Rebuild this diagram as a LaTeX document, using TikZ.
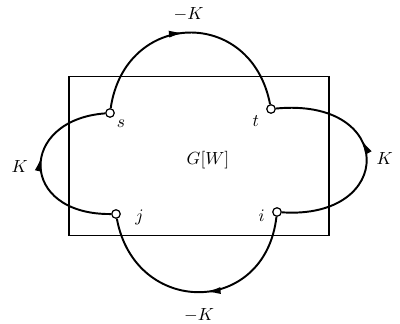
\documentclass[tikz,border=0pt]{standalone}
\usepackage{tikz}
\usetikzlibrary{arrows.meta,decorations.markings}

\begin{document}
\begin{tikzpicture}[x=0.02cm, y=-0.02cm,
  vert/.style={circle, draw, fill=white, line width=0.7pt, inner sep=0pt, minimum size=1.7mm},
  arc/.style={line width=1.1pt},
  midarrow/.style={postaction={decorate}, decoration={markings,
      mark=at position #1 with {\arrow{Latex[length=3mm,width=1.4mm]}}}},
  lab/.style={inner sep=1pt}]
\useasboundingbox (0,0) rectangle (400,324);
\node[draw, line width=0.6pt, minimum width=5.2cm, minimum height=3.18cm] (box) at (199,156) {};
\node (gw) at (208,160) {$G[W]$};
% the four vertices on the border of the box
\node[vert, label={[lab, label distance=1pt]below right:$s$}] (s) at (110,113) {};
\node[vert, label={[lab, label distance=1pt, xshift=-3pt]below left:$t$}] (t) at (271,109) {};
\node[vert, label={[lab, label distance=3pt, yshift=-2pt]left:$i$}] (i) at (277,212) {};
\node[vert, label={[lab, label distance=7pt, yshift=-2pt]right:$j$}] (j) at (116,214) {};
% outer arcs
\draw[arc, midarrow=0.48] (s) .. controls +(15,-103) and +(-20,-103) .. node[pos=0.5, above=1mm] {$-K$} (t);
\draw[arc, midarrow=0.58] (i) .. controls +(119,8) and +(125,-12) .. node[pos=0.5, right=0.6mm] {$K$} (t);
\draw[arc, midarrow=0.47] (i) .. controls +(-12,105) and +(19,103) .. node[pos=0.5, below=1.9mm] {$-K$} (j);
\draw[arc, midarrow=0.56] (j) .. controls +(-98,1) and +(-92,7) .. node[pos=0.5, left=1.2mm] {$K$} (s);
\end{tikzpicture}
\end{document}
